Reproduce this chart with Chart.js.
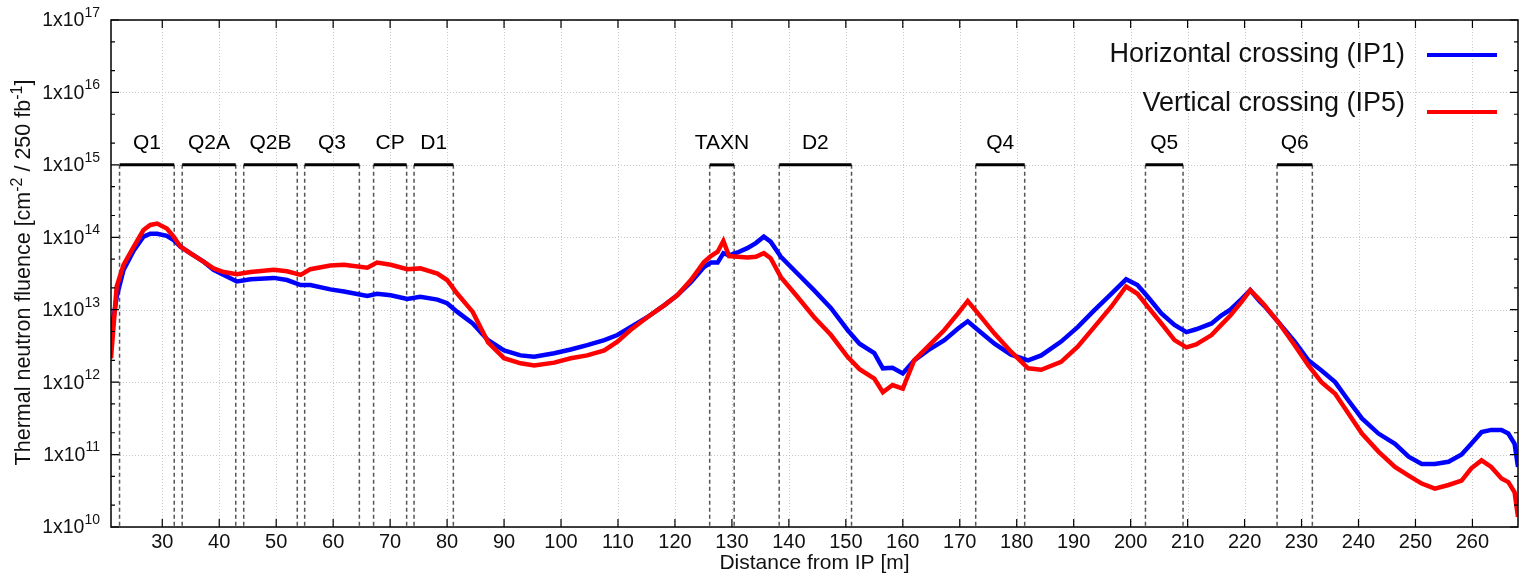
<!DOCTYPE html>
<html>
<head>
<meta charset="utf-8">
<script src="https://cdn.jsdelivr.net/npm/chart.js@4.4.1/dist/chart.umd.min.js"></script>
<style>
  html, body { margin: 0; padding: 0; background: #fff; }
  #wrap { width: 1523px; height: 576px; position: relative; }
</style>
</head>
<body>
<div id="wrap"><canvas id="fluenceChart"></canvas></div>
<script>
// Distance from IP [m]
const distance = [
  21.0, 22.0, 23.2, 25.0, 26.7, 27.9, 29.1, 30.8, 32.0, 33.2,
  34.9, 37.3, 39.0, 40.8, 43.1, 45.5, 49.6, 51.9, 54.3, 56.0,
  59.5, 61.9, 66.0, 67.7, 70.1, 73.0, 75.3, 78.3, 80.0, 81.8,
  84.5, 87.2, 90.0, 92.9, 95.3, 98.8, 101.7, 104.6, 107.6, 109.9,
  112.2, 115.2, 118.1, 120.4, 122.8, 125.1, 126.3, 127.5, 128.5, 129.5,
  131.0, 132.7, 134.2, 135.6, 136.8, 138.6, 141.5, 144.4, 147.4, 150.3,
  152.4, 155.0, 156.5, 158.2, 160.0, 162.0, 164.4, 167.3, 169.7, 171.4,
  173.2, 176.1, 179.0, 182.0, 184.3, 187.8, 190.7, 193.6, 196.6, 199.2,
  201.2, 203.0, 205.4, 207.7, 209.8, 211.5, 214.2, 215.9, 217.5, 219.5,
  221.0, 222.6, 223.5, 225.9, 228.8, 231.2, 233.5, 235.9, 238.2, 240.6,
  243.5, 246.4, 248.8, 251.1, 253.4, 255.8, 258.1, 259.8, 261.6, 263.3,
  265.1, 266.3, 267.4, 268.0
];

// Horizontal crossing (IP1), cm^-2 / 250 fb^-1
const horizontalIP1 = [
  4.47e12, 1.51e13, 3.55e13, 6.6e13, 1.02e14, 1.12e14, 1.12e14, 1.05e14, 9.12e13, 7.41e13,
  6.03e13, 4.57e13, 3.55e13, 3.02e13, 2.45e13, 2.63e13, 2.75e13, 2.57e13, 2.19e13, 2.19e13,
  1.91e13, 1.78e13, 1.55e13, 1.66e13, 1.58e13, 1.41e13, 1.51e13, 1.38e13, 1.23e13, 9.33e12,
  6.46e12, 3.8e12, 2.75e12, 2.34e12, 2.24e12, 2.51e12, 2.82e12, 3.24e12, 3.8e12, 4.47e12,
  5.75e12, 7.94e12, 1.15e13, 1.58e13, 2.4e13, 3.89e13, 4.47e13, 4.47e13, 6.03e13, 5.62e13,
  6.17e13, 7.08e13, 8.32e13, 1.02e14, 8.71e13, 5.37e13, 3.16e13, 1.86e13, 1.05e13, 5.25e12,
  3.39e12, 2.51e12, 1.55e12, 1.58e12, 1.32e12, 2.0e12, 2.75e12, 3.8e12, 5.5e12, 6.92e12,
  5.25e12, 3.39e12, 2.4e12, 2.0e12, 2.34e12, 3.63e12, 5.75e12, 9.77e12, 1.66e13, 2.63e13,
  2.19e13, 1.51e13, 8.91e12, 6.17e12, 4.9e12, 5.37e12, 6.46e12, 8.32e12, 1.0e13, 1.41e13,
  1.86e13, 1.32e13, 1.12e13, 6.76e12, 3.63e12, 2.0e12, 1.45e12, 1.0e12, 5.62e11, 3.16e11,
  1.95e11, 1.41e11, 9.33e10, 7.41e10, 7.41e10, 7.94e10, 1.0e11, 1.41e11, 2.04e11, 2.19e11,
  2.19e11, 1.95e11, 1.41e11, 6.76e10
];

// Vertical crossing (IP5), cm^-2 / 250 fb^-1
const verticalIP5 = [
  2.14e12, 2.09e13, 4.17e13, 7.41e13, 1.26e14, 1.48e14, 1.55e14, 1.32e14, 1.02e14, 7.41e13,
  6.03e13, 4.57e13, 3.72e13, 3.31e13, 3.09e13, 3.31e13, 3.55e13, 3.39e13, 3.02e13, 3.63e13,
  4.07e13, 4.17e13, 3.8e13, 4.47e13, 4.17e13, 3.63e13, 3.72e13, 3.16e13, 2.57e13, 1.66e13,
  9.33e12, 3.55e12, 2.14e12, 1.82e12, 1.7e12, 1.86e12, 2.14e12, 2.34e12, 2.75e12, 3.63e12,
  5.25e12, 7.94e12, 1.15e13, 1.58e13, 2.57e13, 4.57e13, 5.5e13, 6.31e13, 8.91e13, 5.5e13,
  5.37e13, 5.25e13, 5.37e13, 6.03e13, 5.13e13, 2.82e13, 1.51e13, 7.94e12, 4.47e12, 2.24e12,
  1.51e12, 1.12e12, 7.24e11, 9.12e11, 8.13e11, 2.0e12, 3.09e12, 5.25e12, 8.91e12, 1.32e13,
  8.91e12, 4.68e12, 2.63e12, 1.55e12, 1.48e12, 1.91e12, 3.09e12, 5.75e12, 1.1e13, 2.09e13,
  1.66e13, 1.1e13, 6.46e12, 3.8e12, 3.02e12, 3.31e12, 4.47e12, 6.17e12, 8.32e12, 1.29e13,
  1.86e13, 1.38e13, 1.15e13, 6.76e12, 3.24e12, 1.7e12, 1.0e12, 6.92e11, 3.72e11, 1.95e11,
  1.1e11, 6.76e10, 5.13e10, 3.98e10, 3.39e10, 3.8e10, 4.37e10, 6.46e10, 8.32e10, 6.76e10,
  4.68e10, 4.17e10, 3.02e10, 1.38e10
];

// Magnet elements along the beam line [m]
const magnetNames = ["Q1", "Q2A", "Q2B", "Q3", "CP", "D1", "TAXN", "D2", "Q4", "Q5", "Q6"];
const magnetStart = [22.5, 33.5, 44.3, 55.0, 67.1, 74.2, 126.1, 138.3, 172.8, 202.6, 225.7];
const magnetEnd   = [32.1, 42.9, 53.7, 64.6, 72.9, 81.1, 130.4, 151.0, 181.4, 209.2, 231.9];
const magnetLevel = 1e15;

// Axis ticks
const xTicks = [30, 40, 50, 60, 70, 80, 90, 100, 110, 120, 130, 140, 150, 160, 170, 180, 190, 200, 210, 220, 230, 240, 250, 260];
const yExponents = [10, 11, 12, 13, 14, 15, 16, 17];
const yMinorFactors = [2, 5];

const FONT = "'Liberation Sans', Arial, Helvetica, sans-serif";

// Text with superscript parts: [[text, isSup], ...]
function measureParts(ctx, parts, size, supSize) {
  let w = 0;
  parts.forEach(([t, sup]) => {
    ctx.font = (sup ? supSize : size) + "px " + FONT;
    w += ctx.measureText(t).width;
  });
  return w;
}
function drawParts(ctx, parts, x, y, size, supSize, supRaise) {
  parts.forEach(([t, sup]) => {
    ctx.font = (sup ? supSize : size) + "px " + FONT;
    ctx.fillText(t, x, sup ? y - supRaise : y);
    x += ctx.measureText(t).width;
  });
}

const decorations = {
  id: "decorations",
  beforeDatasetsDraw(chart) {
    const { ctx, chartArea, scales: { x, y } } = chart;
    const { left, right, top, bottom } = chartArea;
    ctx.save();

    // dotted grid
    ctx.strokeStyle = "#c8c8c8";
    ctx.lineWidth = 1;
    ctx.setLineDash([1, 2]);
    ctx.beginPath();
    xTicks.forEach(v => {
      const px = Math.round(x.getPixelForValue(v)) + 0.5;
      ctx.moveTo(px, top); ctx.lineTo(px, bottom);
    });
    yExponents.forEach(e => {
      const py = Math.round(y.getPixelForValue(Math.pow(10, e))) + 0.5;
      ctx.moveTo(left, py); ctx.lineTo(right, py);
    });
    ctx.stroke();

    // magnet boxes
    const yTop = y.getPixelForValue(magnetLevel);
    for (let i = 0; i < magnetNames.length; i++) {
      const xs = x.getPixelForValue(magnetStart[i]);
      const xe = x.getPixelForValue(magnetEnd[i]);
      ctx.strokeStyle = "#555";
      ctx.lineWidth = 1.5;
      ctx.setLineDash([4, 3]);
      ctx.beginPath();
      ctx.moveTo(xs, yTop); ctx.lineTo(xs, bottom);
      ctx.moveTo(xe, yTop); ctx.lineTo(xe, bottom);
      ctx.stroke();
      ctx.setLineDash([]);
      ctx.strokeStyle = "#000";
      ctx.lineWidth = 3;
      ctx.beginPath();
      ctx.moveTo(xs, yTop); ctx.lineTo(xe, yTop);
      ctx.stroke();
      ctx.fillStyle = "#000";
      ctx.font = "21px " + FONT;
      ctx.textAlign = "center";
      ctx.textBaseline = "alphabetic";
      ctx.fillText(magnetNames[i], (xs + xe) / 2, yTop - 16);
    }
    ctx.restore();
  },
  afterDraw(chart) {
    const { ctx, chartArea, scales: { x, y } } = chart;
    const { left, right, top, bottom } = chartArea;
    ctx.save();

    // frame
    ctx.strokeStyle = "#000";
    ctx.lineWidth = 1.5;
    ctx.strokeRect(left, top, right - left, bottom - top);

    // inner tick marks
    ctx.lineWidth = 1.2;
    ctx.beginPath();
    xTicks.forEach(v => {
      const px = x.getPixelForValue(v);
      ctx.moveTo(px, bottom); ctx.lineTo(px, bottom - 8);
      ctx.moveTo(px, top); ctx.lineTo(px, top + 8);
    });
    yExponents.forEach(e => {
      const py = y.getPixelForValue(Math.pow(10, e));
      ctx.moveTo(left, py); ctx.lineTo(left + 8, py);
      ctx.moveTo(right, py); ctx.lineTo(right - 8, py);
      if (e < yExponents[yExponents.length - 1]) {
        yMinorFactors.forEach(f => {
          const pm = y.getPixelForValue(f * Math.pow(10, e));
          ctx.moveTo(left, pm); ctx.lineTo(left + 4, pm);
          ctx.moveTo(right, pm); ctx.lineTo(right - 4, pm);
        });
      }
    });
    ctx.stroke();

    // y tick labels 1x10^n
    ctx.fillStyle = "#111";
    ctx.textAlign = "left";
    ctx.textBaseline = "middle";
    yExponents.forEach(e => {
      const py = y.getPixelForValue(Math.pow(10, e));
      const parts = [["1x10", false], [String(e), true]];
      const w = measureParts(ctx, parts, 19.5, 14);
      drawParts(ctx, parts, left - 11 - w, py + 1, 19.5, 14, 8);
    });

    // y axis title
    const title = [["Thermal neutron fluence [cm", false], ["-2", true], [" / 250 fb", false], ["-1", true], ["]", false]];
    ctx.save();
    ctx.translate(30, (top + bottom) / 2 - 1);
    ctx.rotate(-Math.PI / 2);
    ctx.textBaseline = "alphabetic";
    const tw = measureParts(ctx, title, 21.5, 16);
    drawParts(ctx, title, -tw / 2, 0, 21.5, 16, 8);
    ctx.restore();

    // legend
    const rows = [{ base: 62, line: 55 }, { base: 111, line: 112 }];
    chart.data.datasets.forEach(ds => {
      const r = rows[ds.legendRow];
      ctx.font = "27px " + FONT;
      ctx.textAlign = "right";
      ctx.textBaseline = "alphabetic";
      ctx.fillStyle = "#111";
      ctx.fillText(ds.label, 1405, r.base);
      ctx.strokeStyle = ds.borderColor;
      ctx.lineWidth = 4;
      ctx.beginPath();
      ctx.moveTo(1427, r.line); ctx.lineTo(1497, r.line);
      ctx.stroke();
    });

    ctx.restore();
  }
};

new Chart(document.getElementById("fluenceChart"), {
  type: "line",
  data: {
    datasets: [
      {
        label: "Horizontal crossing (IP1)",
        data: distance.map((d, i) => ({ x: d, y: horizontalIP1[i] })),
        borderColor: "#0000ff",
        borderWidth: 4.5,
        pointRadius: 0,
        tension: 0,
        order: 1,
        legendRow: 0
      },
      {
        label: "Vertical crossing (IP5)",
        data: distance.map((d, i) => ({ x: d, y: verticalIP5[i] })),
        borderColor: "#ff0000",
        borderWidth: 4.5,
        pointRadius: 0,
        tension: 0,
        order: 0,
        legendRow: 1
      }
    ]
  },
  options: {
    responsive: true,
    maintainAspectRatio: false,
    animation: false,
    layout: { padding: { top: 20, right: 5, left: 0, bottom: 0 } },
    plugins: {
      legend: { display: false },
      tooltip: { enabled: false }
    },
    scales: {
      x: {
        type: "linear",
        min: 21,
        max: 268,
        afterBuildTicks: s => { s.ticks = xTicks.map(v => ({ value: v })); },
        afterFit: s => { s.height = 49; },
        grid: { display: true, drawOnChartArea: false, drawTicks: false },
        border: { display: false },
        ticks: {
          font: { family: FONT, size: 20 },
          color: "#111",
          padding: 3,
          maxRotation: 0,
          autoSkip: false
        },
        title: {
          display: true,
          text: "Distance from IP [m]",
          font: { family: FONT, size: 21 },
          color: "#111",
          padding: { top: 0, bottom: 0 }
        }
      },
      y: {
        type: "logarithmic",
        min: 1e10,
        max: 1e17,
        afterBuildTicks: s => { s.ticks = yExponents.map(e => ({ value: Math.pow(10, e) })); },
        afterFit: s => { s.width = 111; },
        grid: { display: true, drawOnChartArea: false, drawTicks: false },
        border: { display: false },
        ticks: { display: false }
      }
    }
  },
  plugins: [decorations]
});
</script>
</body>
</html>
